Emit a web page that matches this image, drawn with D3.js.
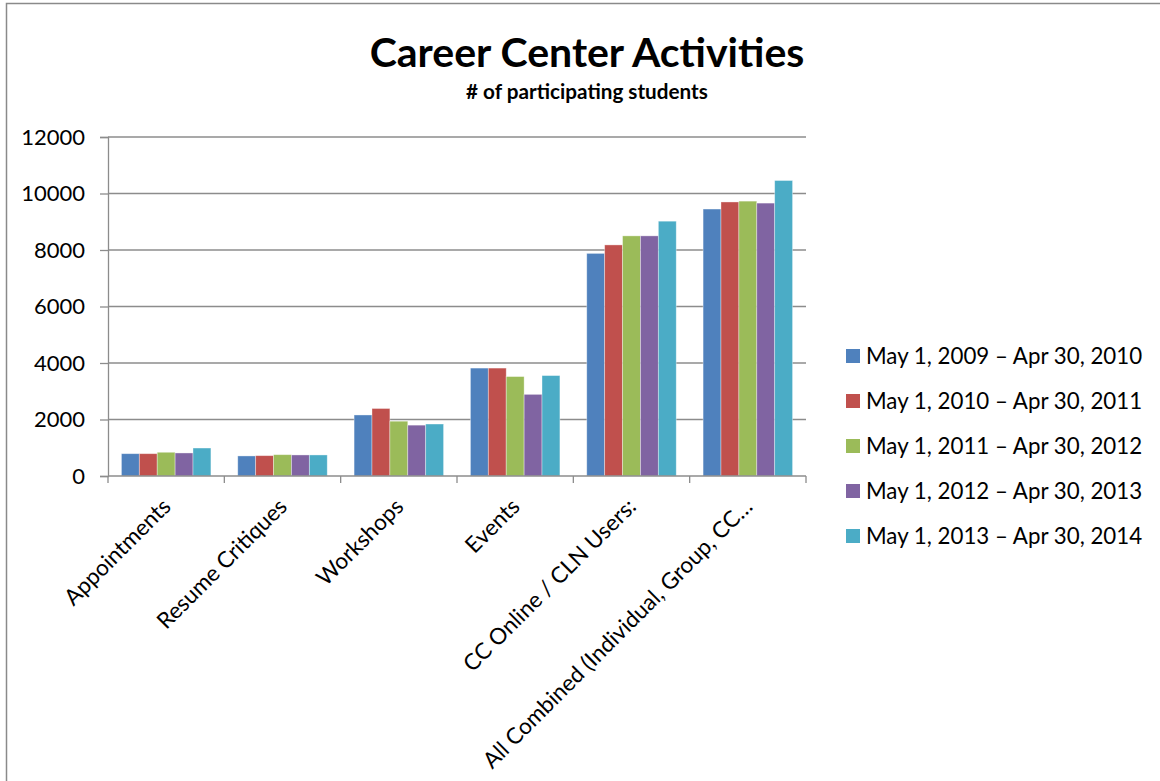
<!DOCTYPE html>
<html>
<head>
<meta charset="utf-8">
<script src="https://cdn.jsdelivr.net/npm/d3@7/dist/d3.min.js"></script>
<style>
  html, body { margin: 0; padding: 0; background: #ffffff; }
  svg { display: block; }
  text { font-family: Lato, "Open Sans", sans-serif; fill: #000; }
</style>
</head>
<body>
<svg id="chart" width="1160" height="781"></svg>
<script>
// Activity categories along the x axis
const categories = [
  "Appointments",
  "Resume Critiques",
  "Workshops",
  "Events",
  "CC Online / CLN Users:",
  "All Combined (Individual, Group, CC\u2026"
];

// Reporting periods (one bar per period in each category)
const periods = [
  "May 1, 2009 \u2013 Apr 30, 2010",
  "May 1, 2010 \u2013 Apr 30, 2011",
  "May 1, 2011 \u2013 Apr 30, 2012",
  "May 1, 2012 \u2013 Apr 30, 2013",
  "May 1, 2013 \u2013 Apr 30, 2014"
];

// Participating students per period, ordered by category
const period2009 = [790, 710, 2160, 3820, 7880, 9450];
const period2010 = [790, 720, 2390, 3820, 8180, 9700];
const period2011 = [840, 755, 1940, 3520, 8500, 9730];
const period2012 = [815, 745, 1800, 2890, 8500, 9660];
const period2013 = [990, 745, 1840, 3555, 9020, 10460];

const seriesValues = [period2009, period2010, period2011, period2012, period2013];
const colors = ["#4F81BD", "#C0504D", "#9BBB59", "#8064A2", "#4BACC6"];

const yTicks = [0, 2000, 4000, 6000, 8000, 10000, 12000];

const svg = d3.select("#chart");

// Chart frame
svg.append("rect")
  .attr("x", 6.5).attr("y", 3.5)
  .attr("width", 1170).attr("height", 800)
  .attr("fill", "none")
  .attr("stroke", "#8a8a8a")
  .attr("stroke-width", 1.5);

const plot = { left: 108, right: 806, top: 137, bottom: 476 };

const x0 = d3.scaleBand()
  .domain(categories)
  .range([plot.left, plot.right])
  .paddingInner(0)
  .paddingOuter(0);

// 150% gap between clusters: each band holds 5 bars plus 1.5 bar widths of gap
const barW = x0.bandwidth() / (periods.length + 1.5);
const x1 = d3.scaleBand()
  .domain(d3.range(periods.length))
  .range([barW * 0.75, barW * 0.75 + barW * periods.length]);

const y = d3.scaleLinear().domain([0, 12000]).range([plot.bottom, plot.top]);

// Gridlines
svg.append("g")
  .selectAll("line")
  .data(yTicks.filter(d => d > 0))
  .join("line")
  .attr("x1", plot.left).attr("x2", plot.right)
  .attr("y1", d => y(d)).attr("y2", d => y(d))
  .attr("stroke", "#8c8c8c")
  .attr("stroke-width", 1.3);

// Bars
const groups = svg.append("g")
  .selectAll("g")
  .data(seriesValues)
  .join("g")
  .attr("fill", (d, i) => colors[i]);

groups.each(function (vals, si) {
  d3.select(this).selectAll("rect")
    .data(vals)
    .join("rect")
    .attr("x", (v, ci) => x0(categories[ci]) + x1(si))
    .attr("y", v => y(v))
    .attr("width", x1.bandwidth())
    .attr("height", v => y(0) - y(v))
    .attr("stroke", "rgba(255,255,255,0.45)")
    .attr("stroke-width", 0.8);
});

// Y axis
const yAxis = d3.axisLeft(y)
  .tickValues(yTicks)
  .tickSize(8)
  .tickPadding(15)
  .tickFormat(d3.format("d"));

const gy = svg.append("g")
  .attr("transform", `translate(${plot.left},0)`)
  .call(yAxis);
gy.select(".domain").attr("stroke", "#8c8c8c").attr("stroke-width", 1.3);
gy.selectAll(".tick line").attr("stroke", "#8c8c8c").attr("stroke-width", 1.3);
gy.selectAll(".tick text")
  .attr("font-family", "Lato, sans-serif")
  .attr("font-size", 22)
  .attr("fill", "#000");

// X axis: ticks at category boundaries
const boundaries = d3.range(categories.length + 1).map(i => plot.left + i * x0.bandwidth());
const gx = svg.append("g");
gx.append("line")
  .attr("x1", plot.left).attr("x2", plot.right)
  .attr("y1", plot.bottom).attr("y2", plot.bottom)
  .attr("stroke", "#8c8c8c").attr("stroke-width", 1.3);
gx.selectAll("line.tick")
  .data(boundaries)
  .join("line")
  .attr("class", "tick")
  .attr("x1", d => d).attr("x2", d => d)
  .attr("y1", plot.bottom).attr("y2", plot.bottom + 7)
  .attr("stroke", "#8c8c8c").attr("stroke-width", 1.3);

// Rotated category labels
gx.selectAll("text")
  .data(categories)
  .join("text")
  .attr("text-anchor", "end")
  .attr("font-size", 22.5)
  .attr("transform", d => `translate(${x0(d) + x0.bandwidth() / 2 + 6},${plot.bottom + 32}) rotate(-45)`)
  .text(d => d);

// Title and subtitle
svg.append("text")
  .attr("x", 587).attr("y", 67)
  .attr("text-anchor", "middle")
  .attr("font-size", 41)
  .attr("font-weight", "bold")
  .text("Career Center Activities");

svg.append("text")
  .attr("x", 587).attr("y", 99)
  .attr("text-anchor", "middle")
  .attr("font-size", 20.7)
  .attr("font-weight", "bold")
  .text("# of participating students");

// Legend
const legend = svg.append("g")
  .selectAll("g")
  .data(periods)
  .join("g")
  .attr("transform", (d, i) => `translate(846,${349 + i * 45})`);

legend.append("rect")
  .attr("width", 14).attr("height", 14)
  .attr("fill", (d, i) => colors[i]);

legend.append("text")
  .attr("x", 20).attr("y", 15)
  .attr("font-size", 22.3)
  .text(d => d);
</script>
</body>
</html>
